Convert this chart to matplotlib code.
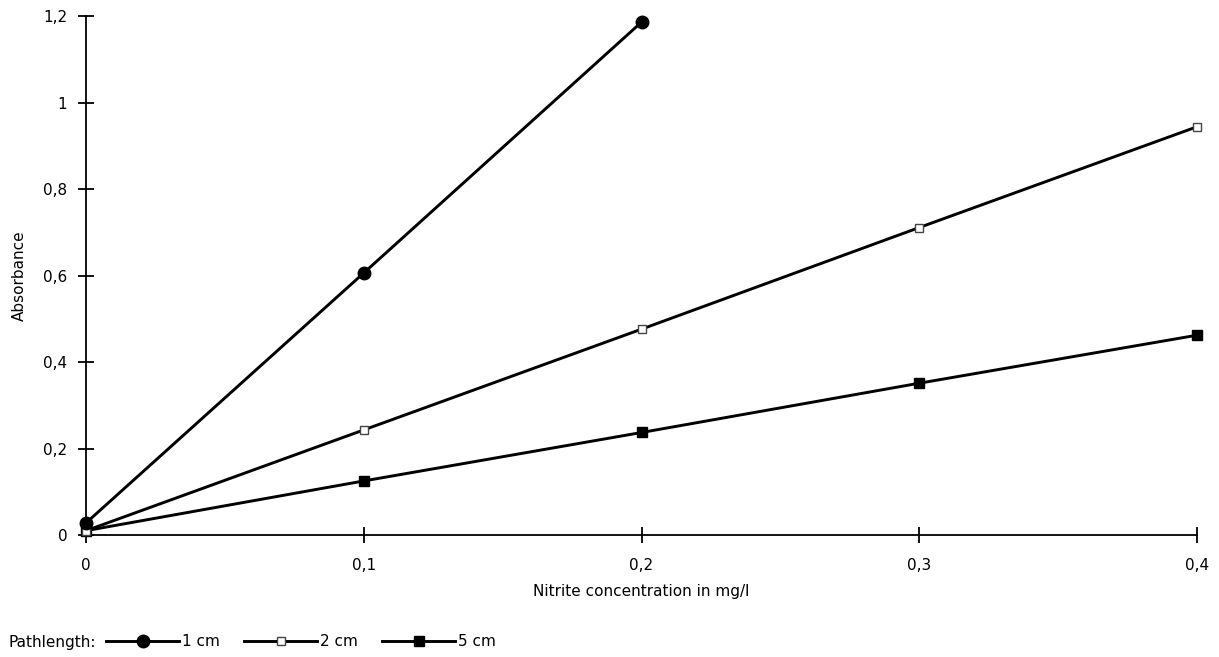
import matplotlib
matplotlib.use("Agg")
import matplotlib.pyplot as plt
from matplotlib.lines import Line2D

# nitrite concentration (mg/l) and absorbance per pathlength
conc = [0.0, 0.1, 0.2, 0.3, 0.4]
abs_1cm = [0.028, 0.606, 1.186]
abs_2cm = [0.010, 0.243, 0.476, 0.711, 0.944]
abs_5cm = [0.010, 0.125, 0.237, 0.351, 0.462]

xticks = [0.0, 0.1, 0.2, 0.3, 0.4]
xticklabels = ["0", "0,1", "0,2", "0,3", "0,4"]
yticks = [0.0, 0.2, 0.4, 0.6, 0.8, 1.0, 1.2]
yticklabels = ["0", "0,2", "0,4", "0,6", "0,8", "1", "1,2"]

plt.rcParams["font.family"] = ["DejaVu Sans"]
plt.rcParams["font.size"] = 11

fig = plt.figure(figsize=(12.19, 6.57), dpi=100)
ax = fig.add_axes([0.0706, 0.1857, 0.9114, 0.7899])

lw = 2.1
ax.plot(conc, abs_5cm, color="black", lw=lw, marker="s", ms=6.5,
        mfc="black", mec="black", clip_on=False, zorder=3)
ax.plot(conc, abs_2cm, color="black", lw=lw, marker="s", ms=6,
        mfc="white", mec="#444444", mew=1.0, clip_on=False, zorder=4)
ax.plot(conc[:3], abs_1cm, color="black", lw=lw, marker="o", ms=9,
        mfc="black", mec="black", clip_on=False, zorder=5)

ax.set_xlim(0, 0.4)
ax.set_ylim(0, 1.2)
ax.set_xticks(xticks)
ax.set_xticklabels(xticklabels)
ax.set_yticks(yticks)
ax.set_yticklabels(yticklabels)
ax.spines["top"].set_visible(False)
ax.spines["right"].set_visible(False)
for s in ("left", "bottom"):
    ax.spines[s].set_linewidth(1.3)
ax.tick_params(direction="inout", length=11, width=1.3, color="black")
ax.tick_params(axis="x", pad=11)
ax.tick_params(axis="y", pad=8)

ax.set_xlabel("Nitrite concentration in mg/l", labelpad=8)
ax.set_ylabel("Absorbance", labelpad=12)

handles = [
    Line2D([], [], color="black", lw=lw, marker="o", ms=9, mfc="black"),
    Line2D([], [], color="black", lw=lw, marker="s", ms=6, mfc="white", mec="#444444", mew=1.0),
    Line2D([], [], color="black", lw=lw, marker="s", ms=6.5, mfc="black"),
]
fig.text(8 / 1219, 1 - 642 / 657, "Pathlength:", ha="left", va="center")
fig.legend(handles, ["1 cm", "2 cm", "5 cm"], ncol=3, frameon=False,
           loc="center left", bbox_to_anchor=(106 / 1219, 1 - 642 / 657),
           borderaxespad=0, borderpad=0, handlelength=4.8,
           handletextpad=0.15, columnspacing=1.6, numpoints=1)

fig.savefig("out.png", dpi=100)
